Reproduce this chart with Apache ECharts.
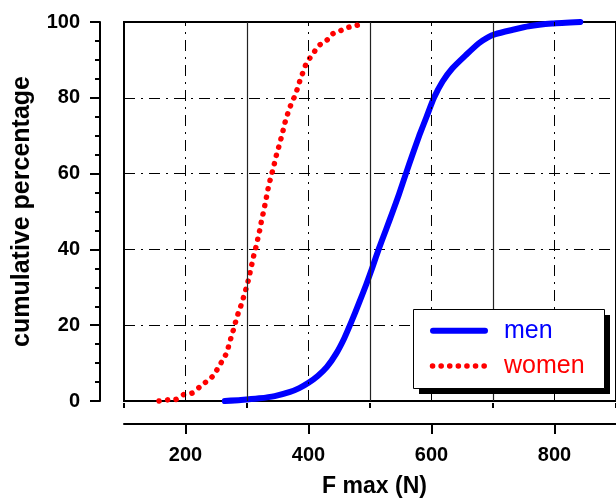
<!DOCTYPE html>
<html><head><meta charset="utf-8">
<script src="https://cdn.jsdelivr.net/npm/echarts@6/dist/echarts.min.js"></script>
<style>html,body{margin:0;padding:0;background:#fff}#c{width:616px;height:503px}</style>
</head><body><div id="c"></div>
<script>
const menF   = [264,290,320,345,370,385,400,415,430,445,458,470,482,494,504,514,526,537,547,558,569,580,592,604,618,634,656,677,691,704,731,758,796,842];
const menPct = [0,0.25,0.7,1.3,2.4,3.4,4.8,6.6,9,12.5,16.5,21,25.8,30.8,35.3,40,45.2,50,54.5,59.8,65,70,75,80,84.3,87.8,91.3,94.4,95.9,96.8,97.9,98.9,99.6,100];
const womenF   = [157,171,184,197,211,223,233,244,253,260,267.6,270.8,275,279,282.7,287,292,295.7,300,303,306,309,312,315.7,318.4,321.6,323.8,327,329.7,332.4,335,338.4,342,345.4,348.6,352.5,356,359.5,362.7,367,371.9,377.8,382.7,387,391.9,397,407,416,428.7,439.4,451.9,464.8,478,491.9];
const womenPct = [0,0.3,0.4,1.7,2.1,3.7,5,6.5,8.7,10.7,12.9,15,17.2,19.4,21.6,23.8,26,28.2,30.4,32.5,34.7,36.9,39.1,41.3,43.5,45.7,47.8,50,52.2,54.4,56.6,58.8,61,63.2,65.4,67.5,69.7,71.9,74,76.2,78.4,80.5,82.8,85,87.1,89.3,91.5,93.7,95,96.9,97.7,98.6,99.1,99.7];
const xMajorTicks = [200,400,600,800];
const xMinorTicks = [100,300,500,700,900];
const xGridSolid = [300,500,700];
const xGridDashDot = [200,400,600,800];
const seriesNames = ['men','women'];
const seriesColors = ['#0000ff','#ff0000'];
const xTitle = 'F max (N)';
const yTitle = 'cumulative percentage';

const FONT = "'Liberation Sans', Arial, Helvetica, sans-serif";
const DASHDOT = [11,6,2,6];
const WOMEN_DOTS = [0.1,8.5];
const pair = (xs, ys) => xs.map((x,i)=>[x, ys[i]]);

const gridBox = {left:124, top:22, width:493, height:381};

// legend box (drawn as graphics)
const LX = 413, LY = 309, LW = 191, LH = 79, SH = 6;
const rowY = [330.7, 366];
const legendGraphics = [
  {type:'rect', z:50, silent:true, shape:{x:LX+SH, y:LY+SH, width:LW, height:LH}, style:{fill:'#000'}},
  {type:'rect', z:51, silent:true, shape:{x:LX+0.5, y:LY+0.5, width:LW, height:LH}, style:{fill:'#fff', stroke:'#000', lineWidth:1}},
  {type:'line', z:52, silent:true, shape:{x1:433, y1:rowY[0], x2:485, y2:rowY[0]}, style:{stroke:seriesColors[0], lineWidth:6, lineCap:'round'}},
  {type:'line', z:52, silent:true, shape:{x1:432.5, y1:rowY[1], x2:485, y2:rowY[1]}, style:{stroke:seriesColors[1], lineWidth:5.5, lineCap:'round', lineDash:WOMEN_DOTS}},
  {type:'text', z:52, silent:true, x:504, y:rowY[0], style:{text:seriesNames[0], fill:seriesColors[0], font:"25px "+FONT, textVerticalAlign:'middle', textAlign:'left'}},
  {type:'text', z:52, silent:true, x:504, y:rowY[1], style:{text:seriesNames[1], fill:seriesColors[1], font:"25px "+FONT, textVerticalAlign:'middle', textAlign:'left'}}
];

const chart = echarts.init(document.getElementById('c'), null, {renderer:'canvas'});
chart.setOption({
  animation:false,
  backgroundColor:'#fff',
  grid:[
    Object.assign({show:true, borderColor:'#000', borderWidth:2, backgroundColor:'transparent'}, gridBox),
    Object.assign({show:false}, gridBox)
  ],
  xAxis:[{
    gridIndex:0, type:'value', min:100, max:900, position:'bottom', offset:23,
    axisLine:{show:true, onZero:false, lineStyle:{color:'#000', width:2}},
    axisTick:{show:true, customValues:xMajorTicks, length:10, lineStyle:{color:'#000', width:2}},
    axisLabel:{show:true, customValues:xMajorTicks, margin:21, color:'#000', fontSize:20, fontWeight:'bold', fontFamily:FONT},
    splitLine:{show:false},
    name:xTitle, nameLocation:'middle', nameGap:51,
    nameTextStyle:{color:'#000', fontSize:23, fontWeight:'bold', fontFamily:FONT, padding:[0,0,0,9]}
  },{
    gridIndex:1, type:'value', min:100, max:900, position:'bottom', offset:23,
    axisLine:{show:false},
    axisTick:{show:true, customValues:xMinorTicks, length:5, lineStyle:{color:'#000', width:2}},
    axisLabel:{show:false},
    splitLine:{show:false}
  }],
  yAxis:[{
    gridIndex:0, type:'value', min:0, max:100, interval:20, position:'left', offset:24,
    axisLine:{show:true, lineStyle:{color:'#000', width:2}},
    axisTick:{show:true, length:10, lineStyle:{color:'#000', width:2}},
    minorTick:{show:true, splitNumber:4, length:5, lineStyle:{color:'#000', width:2}},
    axisLabel:{margin:20, color:'#000', fontSize:20, fontWeight:'bold', fontFamily:FONT},
    splitLine:{show:true, lineStyle:{color:'#000', width:1, type:DASHDOT}},
    name:yTitle, nameLocation:'middle', nameGap:65, nameRotate:90,
    nameTextStyle:{color:'#000', fontSize:25, fontWeight:'bold', fontFamily:FONT}
  },{
    gridIndex:1, type:'value', min:0, max:100, show:false
  }],
  graphic: legendGraphics,
  series:[{
    name:'grid', type:'line', data:[], z:1, silent:true, xAxisIndex:0, yAxisIndex:0,
    markLine:{
      silent:true, symbol:['none','none'], label:{show:false}, animation:false,
      data: xGridSolid.map(v=>({xAxis:v, lineStyle:{color:'#222', width:1.2, type:'solid'}}))
        .concat(xGridDashDot.map(v=>({xAxis:v, lineStyle:{color:'#000', width:1, type:DASHDOT}})))
    }
  },{
    name:seriesNames[0], type:'line', z:3, clip:false, symbol:'none', showSymbol:false,
    smooth:0.2,
    data: pair(menF, menPct),
    lineStyle:{color:seriesColors[0], width:6, cap:'round', join:'round'}
  },{
    name:seriesNames[1], type:'line', z:3, clip:false, symbol:'none', showSymbol:false,
    smooth:0.2,
    data: pair(womenF, womenPct),
    lineStyle:{color:seriesColors[1], width:5.5, cap:'round', join:'round', type:WOMEN_DOTS}
  }]
});
</script></body></html>
